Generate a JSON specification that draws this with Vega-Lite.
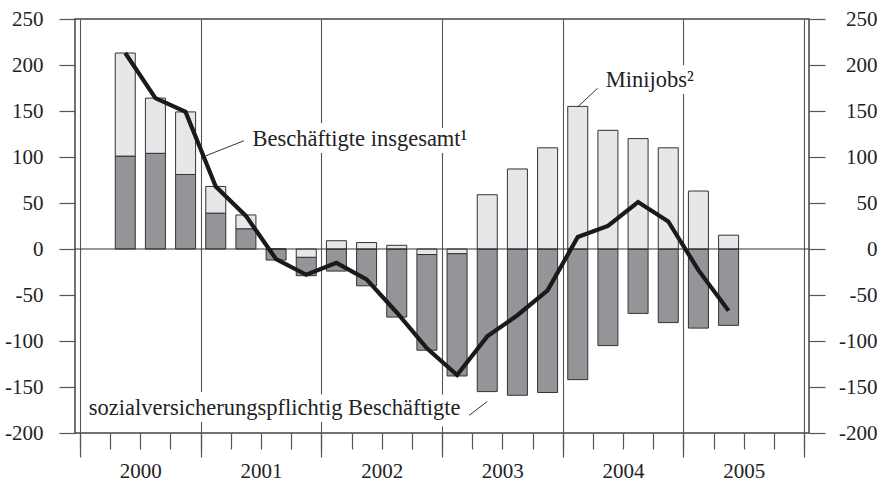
{
  "$schema": "https://vega.github.io/schema/vega-lite/v6.json",
  "width": 734,
  "height": 414,
  "autosize": {"type": "none"},
  "padding": {"left": 75, "top": 19, "right": 72, "bottom": 48},
  "background": "white",
  "config": {
    "font": "Liberation Serif, Times New Roman, serif",
    "view": {"stroke": "#444", "strokeWidth": 1.5},
    "axis": {"labelFont": "Liberation Serif, Times New Roman, serif", "labelFontSize": 21, "labelColor": "#222", "tickColor": "#555", "domainColor": "#333", "tickWidth": 1.2, "domainWidth": 1.2},
    "text": {"font": "Liberation Serif, Times New Roman, serif"}
  },
  "datasets": {
    "bars": [
      {"q": 1.5, "s": "sv", "v": 101}, {"q": 1.5, "s": "mj", "v": 112},
      {"q": 2.5, "s": "sv", "v": 104}, {"q": 2.5, "s": "mj", "v": 60},
      {"q": 3.5, "s": "sv", "v": 81}, {"q": 3.5, "s": "mj", "v": 68},
      {"q": 4.5, "s": "sv", "v": 39}, {"q": 4.5, "s": "mj", "v": 29},
      {"q": 5.5, "s": "sv", "v": 22}, {"q": 5.5, "s": "mj", "v": 15},
      {"q": 6.5, "s": "sv", "v": -12}, {"q": 6.5, "s": "mj", "v": 0},
      {"q": 7.5, "s": "sv", "v": -20}, {"q": 7.5, "s": "mj", "v": -9},
      {"q": 8.5, "s": "sv", "v": -24}, {"q": 8.5, "s": "mj", "v": 9},
      {"q": 9.5, "s": "sv", "v": -40}, {"q": 9.5, "s": "mj", "v": 7},
      {"q": 10.5, "s": "sv", "v": -74}, {"q": 10.5, "s": "mj", "v": 4},
      {"q": 11.5, "s": "sv", "v": -104}, {"q": 11.5, "s": "mj", "v": -6},
      {"q": 12.5, "s": "sv", "v": -133}, {"q": 12.5, "s": "mj", "v": -5},
      {"q": 13.5, "s": "sv", "v": -155}, {"q": 13.5, "s": "mj", "v": 59},
      {"q": 14.5, "s": "sv", "v": -159}, {"q": 14.5, "s": "mj", "v": 87},
      {"q": 15.5, "s": "sv", "v": -156}, {"q": 15.5, "s": "mj", "v": 110},
      {"q": 16.5, "s": "sv", "v": -142}, {"q": 16.5, "s": "mj", "v": 155},
      {"q": 17.5, "s": "sv", "v": -105}, {"q": 17.5, "s": "mj", "v": 129},
      {"q": 18.5, "s": "sv", "v": -70}, {"q": 18.5, "s": "mj", "v": 120},
      {"q": 19.5, "s": "sv", "v": -80}, {"q": 19.5, "s": "mj", "v": 110},
      {"q": 20.5, "s": "sv", "v": -86}, {"q": 20.5, "s": "mj", "v": 63},
      {"q": 21.5, "s": "sv", "v": -83}, {"q": 21.5, "s": "mj", "v": 15}
    ],
    "total": [
      {"q": 1.5, "total": 213}, {"q": 2.5, "total": 164}, {"q": 3.5, "total": 149},
      {"q": 4.5, "total": 68}, {"q": 5.5, "total": 36}, {"q": 6.5, "total": -11},
      {"q": 7.5, "total": -28}, {"q": 8.5, "total": -15}, {"q": 9.5, "total": -33},
      {"q": 10.5, "total": -69}, {"q": 11.5, "total": -108}, {"q": 12.5, "total": -137},
      {"q": 13.5, "total": -95}, {"q": 14.5, "total": -72}, {"q": 15.5, "total": -45},
      {"q": 16.5, "total": 13}, {"q": 17.5, "total": 25}, {"q": 18.5, "total": 51},
      {"q": 19.5, "total": 30}, {"q": 20.5, "total": -23}, {"q": 21.5, "total": -67}
    ],
    "labels": [
      {"q": 5.72, "val": 112.2, "text": "Beschäftigte insgesamt¹"},
      {"q": 17.43, "val": 175.6, "text": "Minijobs²"},
      {"q": 0.29, "val": -180.8, "text": "sozialversicherungspflichtig Beschäftigte"}
    ],
    "leaders": [
      {"q": 4.17, "val": 101.3, "q2": 5.43, "val2": 117.6},
      {"q": 16.5, "val": 154.5, "q2": 17.16, "val2": 174.8},
      {"q": 12.9, "val": -180.8, "q2": 13.5, "val2": -165.8}
    ]
  },
  "resolve": {"axis": {"x": "independent", "y": "independent"}},
  "layer": [
    {
      "data": {"name": "bars"},
      "transform": [{"calculate": "((datum.v < 0) == (datum.s == 'mj')) ? 0 : 1", "as": "ord"}],
      "mark": {"type": "bar", "size": 20, "stroke": "#333", "strokeWidth": 1},
      "encoding": {
        "x": {
          "field": "q", "type": "quantitative",
          "scale": {"domain": [0, 24], "nice": false, "zero": false},
          "axis": {"title": null, "orient": "bottom", "values": [0,1,2,3,4,5,6,7,8,9,10,11,12,13,14,15,16,17,18,19,20,21,22,23,24], "tickSize": 16, "labels": false, "grid": false, "domain": false}
        },
        "y": {
          "field": "v", "type": "quantitative", "stack": "zero",
          "scale": {"domain": [-200, 250], "nice": false, "zero": false},
          "axis": {"title": null, "orient": "left", "values": [-200,-150,-100,-50,0,50,100,150,200,250], "labelExpr": "'' + datum.value", "tickSize": 16, "labelPadding": 16, "grid": false, "domain": false}
        },
        "color": {"field": "s", "type": "nominal", "scale": {"domain": ["sv", "mj"], "range": ["#939598", "#e6e7e8"]}, "legend": null},
        "order": {"field": "ord", "type": "quantitative"}
      }
    },
    {
      "data": {"values": [{"z": 0}]},
      "mark": {"type": "rule", "color": "#333", "strokeWidth": 1.1},
      "encoding": {"y": {"field": "z", "type": "quantitative", "axis": null}}
    },
    {
      "data": {"name": "total"},
      "mark": {"type": "line", "color": "#1a1a1a", "strokeWidth": 4.2, "strokeJoin": "miter"},
      "encoding": {
        "x": {
          "field": "q", "type": "quantitative",
          "scale": {"domain": [0, 24], "nice": false, "zero": false},
          "axis": {"title": null, "orient": "bottom", "values": [0,4,8,12,16,20,24], "tickSize": 24, "labels": false, "grid": true, "gridColor": "#555", "gridWidth": 1.1, "domain": false}
        },
        "y": {
          "field": "total", "type": "quantitative",
          "scale": {"domain": [-200, 250], "nice": false, "zero": false},
          "axis": {"title": null, "orient": "right", "values": [-200,-150,-100,-50,0,50,100,150,200,250], "labelExpr": "'' + datum.value", "tickSize": 16, "labelAlign": "right", "labelPadding": 52, "grid": false, "domain": false}
        }
      }
    },
    {
      "data": {"name": "leaders"},
      "mark": {"type": "rule", "color": "#333", "strokeWidth": 1},
      "encoding": {
        "x": {"field": "q", "type": "quantitative", "axis": null},
        "x2": {"field": "q2"},
        "y": {"field": "val", "type": "quantitative", "axis": null},
        "y2": {"field": "val2"}
      }
    },
    {
      "data": {"name": "labels"},
      "mark": {"type": "text", "align": "left", "baseline": "alphabetic", "fontSize": 22.5, "stroke": "white", "strokeWidth": 14, "fill": "white"},
      "encoding": {
        "x": {
          "field": "q", "type": "quantitative",
          "scale": {"domain": [0, 24], "nice": false, "zero": false},
          "axis": {"title": null, "orient": "bottom", "values": [2,6,10,14,18,22], "ticks": false, "labelExpr": "'' + (2000 + (datum.value - 2) / 4)", "labelPadding": 27, "labelBaseline": "top", "labelFlush": false, "labelOverlap": false, "grid": false, "domain": false}
        },
        "y": {"field": "val", "type": "quantitative", "axis": null},
        "text": {"field": "text"}
      }
    },
    {
      "data": {"name": "labels"},
      "mark": {"type": "text", "align": "left", "baseline": "alphabetic", "fontSize": 22.5, "color": "#222"},
      "encoding": {
        "x": {"field": "q", "type": "quantitative", "axis": null},
        "y": {"field": "val", "type": "quantitative", "axis": null},
        "text": {"field": "text"}
      }
    }
  ]
}
